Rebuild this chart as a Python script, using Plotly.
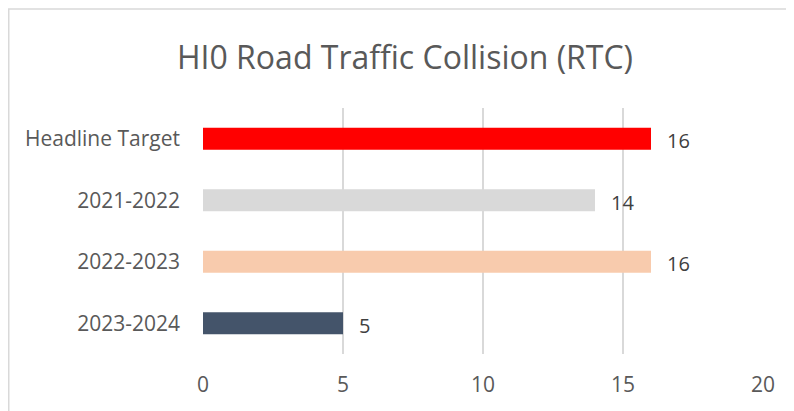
import plotly.graph_objects as go

categories = ["Headline Target", "2021-2022", "2022-2023", "2023-2024"]
values = [16, 14, 16, 5]
bar_colors = ["#FF0000", "#D9D9D9", "#F8CBAD", "#44546A"]
x_ticks = [0, 5, 10, 15, 20]

fig = go.Figure()
fig.add_trace(go.Bar(
    y=categories, x=values, orientation="h",
    marker=dict(color=bar_colors, line=dict(width=0)),
    width=0.36, hoverinfo="skip",
))

for c, v in zip(categories, values):
    fig.add_annotation(x=v, y=c, text=str(v), showarrow=False,
                       xanchor="left", xshift=14, yshift=-2,
                       font=dict(family="Open Sans", size=20, color="#404040"))

# outer chart border (light grey frame)
fig.add_shape(type="rect", xref="paper", yref="paper",
              x0=-0.3469, x1=1.07, y0=-0.3, y1=1.402,
              line=dict(color="#D9D9D9", width=1.5), fillcolor="rgba(0,0,0,0)",
              layer="below")

fig.update_layout(
    width=794, height=411,
    margin=dict(l=195, r=39, t=100, b=65),
    paper_bgcolor="white", plot_bgcolor="white",
    showlegend=False,
    title=dict(text="HI0 Road Traffic Collision (RTC)", x=0.5, xanchor="center",
               y=0.88, yanchor="middle",
               font=dict(family="Open Sans", size=32, color="#595959")),
    font=dict(family="Open Sans", size=21, color="#595959"),
    xaxis=dict(range=[0, 20], tickvals=x_ticks, showgrid=True,
               gridcolor="#D9D9D9", gridwidth=1.5, zeroline=False,
               showline=False, ticks="", ticklabelstandoff=16,
               tickfont=dict(size=21, color="#595959"), fixedrange=True),
    yaxis=dict(categoryorder="array", categoryarray=categories[::-1],
               showgrid=False, zeroline=False, showline=False, ticks="",
               ticklabelstandoff=22,
               tickfont=dict(size=21, color="#595959"), fixedrange=True),
)

fig.write_html("out.html")
